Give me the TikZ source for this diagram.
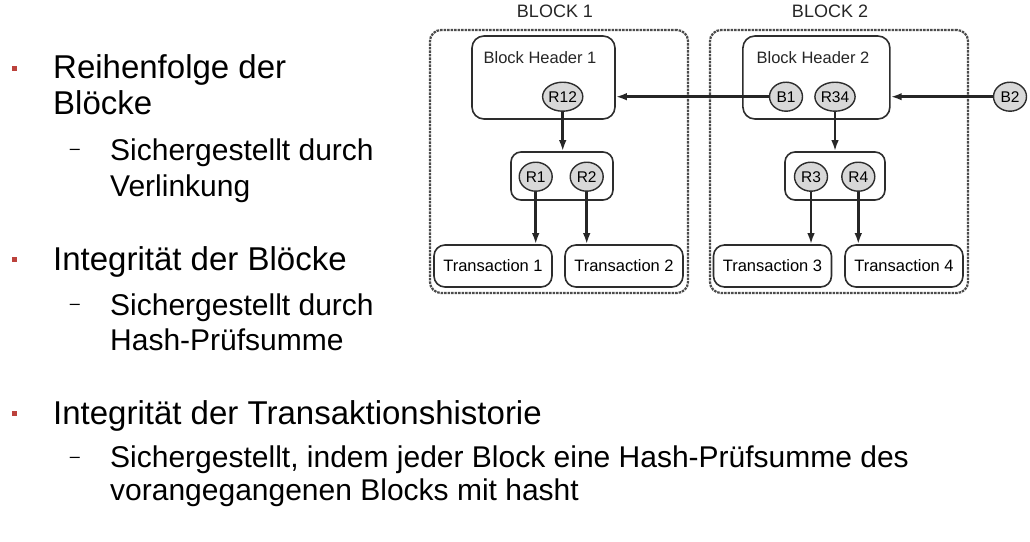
\documentclass[tikz,border=0pt]{standalone}
\usepackage{fontspec}
\setmainfont{Liberation Sans}
\usetikzlibrary{shapes.geometric}
\usetikzlibrary{arrows.meta}
\definecolor{bulletred}{RGB}{188,66,60}
\definecolor{boxline}{RGB}{45,45,45}
\definecolor{hashfill}{RGB}{216,216,216}

\tikzset{
  mainline/.style={anchor=base west,inner sep=0pt,font=\fontsize{33}{36}\selectfont},
  subline/.style={anchor=base west,inner sep=0pt,font=\fontsize{30}{35}\selectfont},
  subdash/.style={inner sep=0pt,font=\fontsize{18}{18}\selectfont},
  blockbox/.style={draw=boxline!85,line width=2.2pt,dash pattern=on 2.5pt off 1pt,rounded corners=11pt},
  headbox/.style={draw=boxline,line width=1.6pt,rounded corners=12pt,fill=white},
  txbox/.style={draw=boxline,line width=1.6pt,rounded corners=11pt,fill=white,minimum width=118pt,minimum height=42pt,inner sep=0pt,font=\fontsize{16.5}{16.5}\selectfont},
  hashnode/.style={ellipse,draw=boxline,line width=1.4pt,fill=hashfill,inner sep=0pt,minimum width=33pt,minimum height=29pt,font=\fontsize{15.5}{15.5}\selectfont},
  difftext/.style={inner sep=0pt,font=\fontsize{16.5}{16.5}\selectfont,text=black!85},
  link/.style={-{Latex[length=11pt,width=7.5pt]},line width=2.8pt,black!85}
}

\begin{document}
\begin{tikzpicture}[x=1pt,y=-1pt]
\useasboundingbox (0,0) rectangle (1030,541);

%bullet list
\fill[bulletred] (12,66) rectangle (17,71);
\node[mainline] (l1) at (53,78.5) {Reihenfolge der};
\node[mainline] (l2) at (53,114.5) {Blöcke};
\node[subdash] (d1) at (75,151.7) {–};
\node[subline] (s1) at (110,160) {Sichergestellt durch};
\node[subline] (s2) at (110,196) {Verlinkung};

\fill[bulletred] (12,257) rectangle (17,262);
\node[mainline] (l3) at (53,270) {Integrität der Blöcke};
\node[subdash] (d2) at (75,306.7) {–};
\node[subline] (s3) at (110,315) {Sichergestellt durch};
\node[subline] (s4) at (110,350) {Hash-Prüfsumme};

\fill[bulletred] (12,411) rectangle (17,416);
\node[mainline] (l4) at (53,424) {Integrität der Transaktionshistorie};
\node[subdash] (d3) at (75,460) {–};
\node[subline] (s5) at (110,467.5) {Sichergestellt, indem jeder Block eine Hash-Prüfsumme des};
\node[subline] (s6) at (110,500.5) {vorangegangenen Blocks mit hasht};

%block 1
\node[blockbox,minimum width=258pt,minimum height=263pt] (blk1) at (559,161.5) {};
\node[difftext,font=\fontsize{18}{18}\selectfont] (cap1) at (555,11) {BLOCK 1};
\node[headbox,minimum width=143pt,minimum height=83pt] (hdr1) at (543.5,77.5) {};
\node[difftext] (hdrtext1) at (540,58) {Block Header 1};
\node[hashnode] (R12) at (562.7,96.7) {R12};
\node[headbox,rounded corners=10pt,minimum width=102pt,minimum height=48pt] (mrk1) at (562,176) {};
\node[hashnode] (R1) at (535.7,176.7) {R1};
\node[hashnode] (R2) at (586.7,176.7) {R2};
\node[txbox] (tx1) at (493,266) {Transaction 1};
\node[txbox] (tx2) at (624,266) {Transaction 2};

%block 2
\node[blockbox,minimum width=258pt,minimum height=263pt] (blk2) at (839,161.5) {};
\node[difftext,font=\fontsize{18}{18}\selectfont] (cap2) at (830,11) {BLOCK 2};
\node[headbox,minimum width=147pt,minimum height=83pt] (hdr2) at (816.4,77.5) {};
\node[difftext] (hdrtext2) at (813,58) {Block Header 2};
\node[hashnode] (B1) at (786,96.7) {B1};
\node[hashnode] (R34) at (835,96.7) {R34};
\node[headbox,rounded corners=10pt,minimum width=100pt,minimum height=48pt] (mrk2) at (835,176) {};
\node[hashnode] (R3) at (811,176.7) {R3};
\node[hashnode] (R4) at (858.3,176.7) {R4};
\node[txbox] (tx3) at (772.5,266) {Transaction 3};
\node[txbox] (tx4) at (904,266) {Transaction 4};

%next block hash
\node[hashnode] (B2) at (1010,96.7) {B2};

%links
\draw[link] (B1.west) -- (B1 -| hdr1.east);
\draw[link] (B2.west) -- (B2 -| hdr2.east);
\draw[link] (R12.south) -- (R12 |- mrk1.north);
\draw[link] (R34.south) -- (R34 |- mrk2.north);
\draw[link] (R1.south) -- (R1 |- tx1.north);
\draw[link] (R2.south) -- (R2 |- tx2.north);
\draw[link] (R3.south) -- (R3 |- tx3.north);
\draw[link] (R4.south) -- (R4 |- tx4.north);
\end{tikzpicture}
\end{document}
